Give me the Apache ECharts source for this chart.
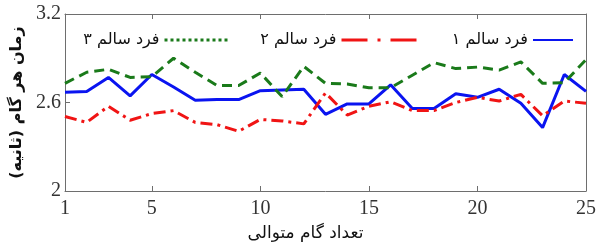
<!DOCTYPE html>
<html>
<head>
<meta charset="utf-8">
<script src="https://cdn.jsdelivr.net/npm/echarts@6/dist/echarts.min.js"></script>
<style>
    html, body { margin: 0; padding: 0; background: #fff; }
    #chart { width: 605px; height: 247px; }
</style>
</head>
<body>
<div id="chart"></div>
<script>
    // داده ها
    var steps = ['1','2','3','4','5','6','7','8','9','10','11','12','13','14','15','16','17','18','19','20','21','22','23','24','25'];
    var shownSteps = ['1','5','10','15','20','25'];
    var person1 = [2.67, 2.675, 2.77, 2.645, 2.79, 2.705, 2.615, 2.62, 2.62, 2.68, 2.685, 2.69, 2.52, 2.59, 2.59, 2.72, 2.56, 2.56, 2.66, 2.635, 2.69, 2.595, 2.43, 2.79, 2.675];
    var person2 = [2.505, 2.465, 2.575, 2.48, 2.525, 2.545, 2.465, 2.45, 2.405, 2.485, 2.475, 2.455, 2.665, 2.515, 2.575, 2.605, 2.545, 2.545, 2.6, 2.635, 2.61, 2.655, 2.51, 2.61, 2.595];
    var person3 = [2.73, 2.805, 2.825, 2.77, 2.775, 2.9, 2.805, 2.715, 2.715, 2.8, 2.64, 2.845, 2.73, 2.725, 2.7, 2.7, 2.785, 2.87, 2.83, 2.84, 2.82, 2.875, 2.73, 2.735, 2.89];
    var names = ['فرد سالم ۱', 'فرد سالم ۲', 'فرد سالم ۳'];

    var chart = echarts.init(document.getElementById('chart'));
    var frame = {lineStyle: {color: '#6e6e6e', width: 1}};
    var tickIn = {show: true, inside: true, length: 5, lineStyle: {color: '#6e6e6e'},
        interval: function (i, v) { return shownSteps.indexOf(v) > 0 && v !== '25'; }};
    var numFont = {fontFamily: 'Liberation Serif', fontSize: 20, color: '#333'};
    var legendFont = {fontFamily: 'DejaVu Sans', fontSize: 16, color: '#111'};
    var noDot = {opacity: 0};

    var option = {
        animation: false,
        grid: {left: 65, right: 19, top: 14, bottom: 56},
        legend: [
            {data: [{name: names[0], itemStyle: noDot}], right: 26, top: 27, align: 'right', itemWidth: 40, itemHeight: 14, textStyle: legendFont},
            {data: [{name: names[1], itemStyle: noDot, lineStyle: {type: [26, 10, 3, 10], width: 3}}], right: 182, top: 27, align: 'right', itemWidth: 75, itemHeight: 14, textStyle: legendFont},
            {data: [{name: names[2], itemStyle: noDot, lineStyle: {type: [3, 3], width: 3}}], right: 368, top: 27, align: 'right', itemWidth: 66, itemHeight: 14, textStyle: legendFont}
        ],
        xAxis: [
            {
                type: 'category', data: steps, boundaryGap: false,
                axisLine: frame, axisTick: tickIn,
                axisLabel: Object.assign({margin: 8, interval: function (i, v) { return shownSteps.indexOf(v) >= 0; }}, numFont),
                splitLine: {show: false},
                name: 'تعداد گام متوالی', nameLocation: 'middle', nameGap: 34,
                nameTextStyle: {fontFamily: 'DejaVu Sans', fontSize: 17, color: '#111', padding: [0, 40, 0, 0]}
            },
            {
                type: 'category', data: steps, boundaryGap: false, position: 'top',
                axisLine: frame, axisTick: tickIn, axisLabel: {show: false}, splitLine: {show: false}
            }
        ],
        yAxis: [
            {
                type: 'value', min: 2, max: 3.2, interval: 0.6,
                axisLine: {show: true, lineStyle: frame.lineStyle},
                axisTick: {show: true, inside: true, length: 5, lineStyle: {color: '#6e6e6e'}},
                axisLabel: Object.assign({margin: 4}, numFont),
                splitLine: {show: false},
                name: 'زمان هر گام (ثانیه)', nameLocation: 'middle', nameGap: 35,
                nameTextStyle: {fontFamily: 'DejaVu Sans', fontSize: 16, fontWeight: 'bold', color: '#111'}
            },
            {
                type: 'value', min: 2, max: 3.2, interval: 0.6, position: 'right',
                axisLine: {show: true, lineStyle: frame.lineStyle},
                axisTick: {show: true, inside: true, length: 5, lineStyle: {color: '#6e6e6e'}},
                axisLabel: {show: false}, splitLine: {show: false}
            }
        ],
        series: [
            {name: names[0], type: 'line', data: person1, symbol: 'none', lineStyle: {color: '#0a14f0', width: 3}, itemStyle: {color: '#0a14f0'}},
            {name: names[1], type: 'line', data: person2, symbol: 'none', lineStyle: {color: '#f01414', width: 3, type: [12, 5, 3, 5]}, itemStyle: {color: '#f01414'}},
            {name: names[2], type: 'line', data: person3, symbol: 'none', lineStyle: {color: '#1a7a1a', width: 3, type: [10, 6]}, itemStyle: {color: '#1a7a1a'}}
        ]
    };
    chart.setOption(option);
</script>
</body>
</html>
